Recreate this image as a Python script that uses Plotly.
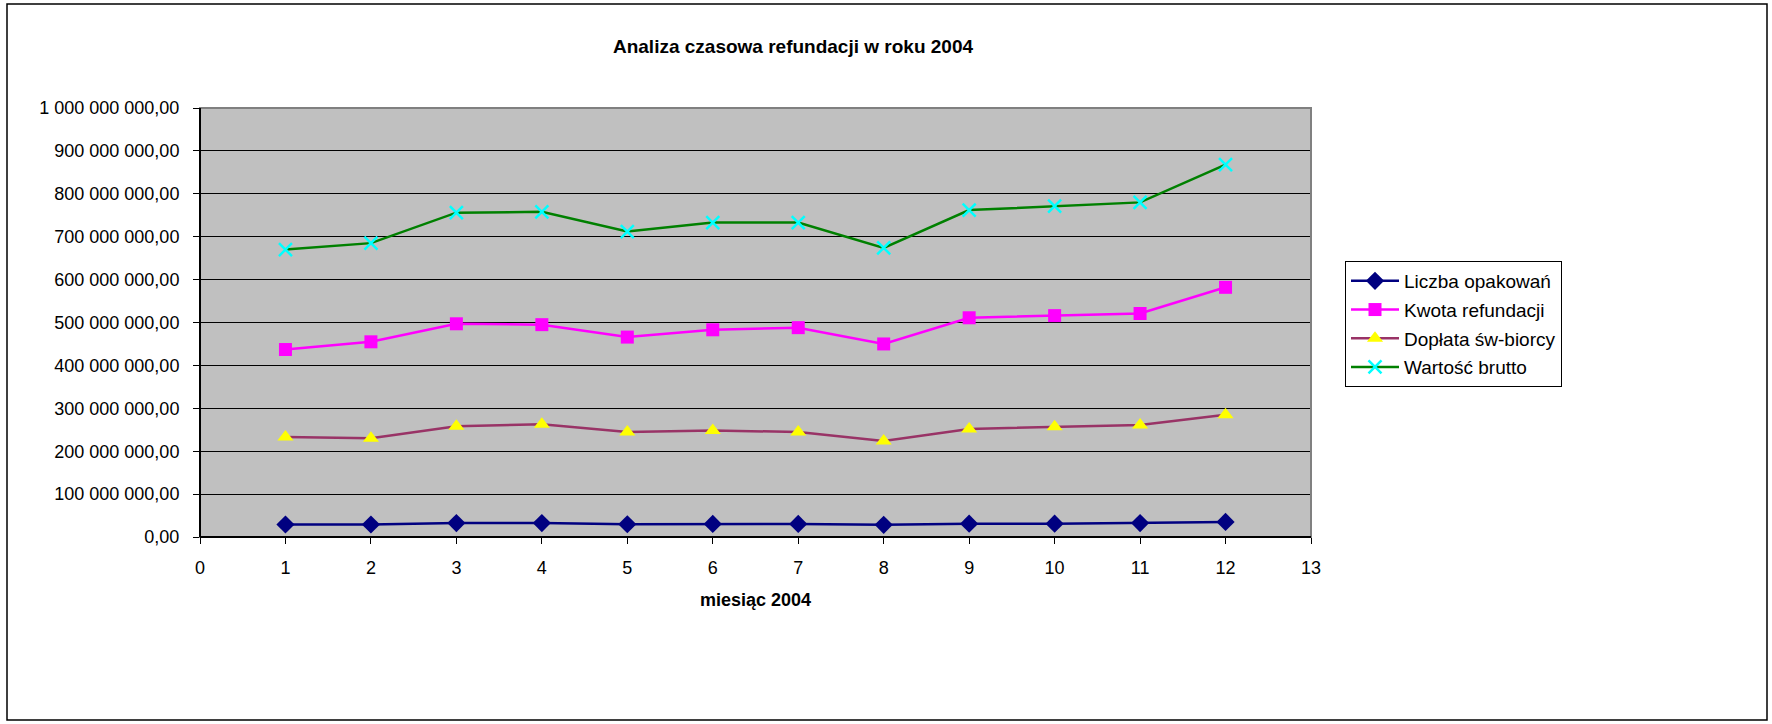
import plotly.graph_objects as go

months = [1, 2, 3, 4, 5, 6, 7, 8, 9, 10, 11, 12]
liczba_opakowan = [29.1e6, 29.1e6, 32.4e6, 32.4e6, 29.7e6, 30.4e6, 30.4e6, 28.4e6, 31.1e6, 31.1e6, 32.4e6, 35.1e6]
kwota_refundacji = [437e6, 455e6, 497e6, 495e6, 466e6, 483e6, 488e6, 450e6, 511e6, 516e6, 521e6, 582e6]
doplata = [233e6, 230e6, 258e6, 263e6, 245e6, 248e6, 245e6, 224e6, 252e6, 257e6, 261e6, 285e6]
wartosc_brutto = [670e6, 685e6, 756e6, 758e6, 712e6, 733e6, 733e6, 674e6, 762e6, 771e6, 780e6, 868e6]

y_tickvals = [0, 1e8, 2e8, 3e8, 4e8, 5e8, 6e8, 7e8, 8e8, 9e8, 1e9]
y_ticktext = ["0,00", "100 000 000,00", "200 000 000,00", "300 000 000,00", "400 000 000,00",
              "500 000 000,00", "600 000 000,00", "700 000 000,00", "800 000 000,00",
              "900 000 000,00", "1 000 000 000,00"]
x_tickvals = list(range(0, 14))

FONT = "Arial, Liberation Sans, sans-serif"
W, H = 1772, 724
L, R, T, B = 200, 461, 108, 187
PW, PH = W - L - R, H - T - B

def px(x):
    return (x - L) / PW

def py(y):
    return (H - B - y) / PH

fig = go.Figure()
fig.add_trace(go.Scatter(
    x=months, y=liczba_opakowan, name="Liczba opakowań", mode="lines+markers",
    legendgroup="a",
    line=dict(color="#000080", width=2.5),
    marker=dict(symbol="diamond", size=14, color="#000080")))
fig.add_trace(go.Scatter(
    x=months, y=kwota_refundacji, name="Kwota refundacji", mode="lines+markers",
    legendgroup="b",
    line=dict(color="#FF00FF", width=2.5),
    marker=dict(symbol="square", size=13, color="#FF00FF")))
fig.add_trace(go.Scatter(
    x=months, y=doplata, name="Dopłata św-biorcy", mode="lines+markers",
    legendgroup="c",
    line=dict(color="#993366", width=2.5),
    marker=dict(symbol="triangle-up", size=14, color="#FFFF00")))
fig.add_trace(go.Scatter(
    x=months, y=wartosc_brutto, name="Wartość brutto", mode="lines+markers",
    legendgroup="d",
    line=dict(color="#008000", width=2.5),
    marker=dict(symbol="x-thin-open", size=13, color="#00FFFF",
                line=dict(color="#00FFFF", width=2.5))))

fig.update_layout(
    width=W, height=H,
    margin=dict(l=L, r=R, t=T, b=B),
    paper_bgcolor="white",
    plot_bgcolor="#C0C0C0",
    font=dict(family=FONT, size=18, color="black"),
    title=dict(text="<b>Analiza czasowa refundacji w roku 2004</b>",
               font=dict(family=FONT, size=19, color="black"),
               x=793 / W, xref="container", xanchor="center",
               y=1 - 46 / H, yref="container", yanchor="middle"),
    xaxis=dict(range=[0, 13], tickvals=x_tickvals, ticks="outside", ticklen=6,
               tickcolor="black", showgrid=False, zeroline=False,
               showline=False, ticklabelstandoff=8,
               title=dict(text="<b>miesiąc 2004</b>", font=dict(family=FONT, size=18),
                          standoff=16),
               tickfont=dict(family=FONT, size=18)),
    yaxis=dict(range=[0, 1e9], tickvals=y_tickvals, ticktext=y_ticktext,
               ticks="outside", ticklen=6, tickcolor="black",
               showgrid=True, gridcolor="#000000", gridwidth=1, zeroline=False,
               showline=False, ticklabelstandoff=10, tickfont=dict(family=FONT, size=18)),
    legend=dict(x=px(1345), y=py(261), xanchor="left", yanchor="top",
                bgcolor="white", bordercolor="black", borderwidth=1,
                font=dict(family=FONT, size=19), itemwidth=48,
                traceorder="grouped", tracegroupgap=1),
    showlegend=True,
)

# plot area border
fig.add_shape(type="rect", xref="paper", yref="paper", x0=0, y0=0, x1=1, y1=1,
              line=dict(color="#808080", width=2), layer="above")
# left axis line and bottom axis line
fig.add_shape(type="line", xref="paper", yref="paper", x0=0, y0=0, x1=0, y1=1,
              line=dict(color="black", width=2), layer="above")
fig.add_shape(type="line", xref="paper", yref="paper", x0=0, y0=0, x1=1, y1=0,
              line=dict(color="black", width=2), layer="above")
# outer chart border
fig.add_shape(type="rect", xref="paper", yref="paper",
              x0=px(7), x1=px(1767), y0=py(720), y1=py(4),
              line=dict(color="black", width=1.5), layer="above")

fig.write_html("out.html", config={"displayModeBar": False})

# remove the default browser body margin so the figure sits at the page origin
with open("out.html", "r", encoding="utf-8") as f:
    html = f.read()
html = html.replace("<body>", '<body style="margin:0;overflow:hidden">', 1)
with open("out.html", "w", encoding="utf-8") as f:
    f.write(html)
